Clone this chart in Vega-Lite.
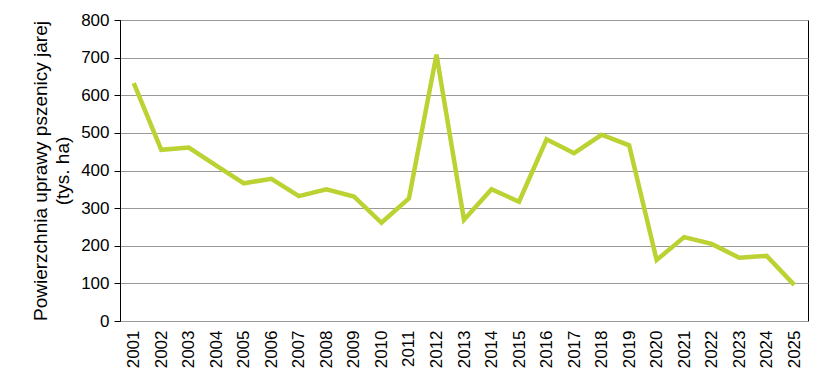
{
  "$schema": "https://vega.github.io/schema/vega-lite/v6.json",
  "width": 688,
  "height": 301,
  "autosize": "none",
  "padding": {"left": 120, "top": 20, "right": 18, "bottom": 62},
  "background": "white",
  "config": {
    "font": "Liberation Sans",
    "view": {"stroke": "black", "strokeWidth": 1}
  },
  "data": {
    "values": [
      {"rok": "2001", "v": 632},
      {"rok": "2002", "v": 455},
      {"rok": "2003", "v": 461},
      {"rok": "2004", "v": 413},
      {"rok": "2005", "v": 366},
      {"rok": "2006", "v": 378},
      {"rok": "2007", "v": 332},
      {"rok": "2008", "v": 350},
      {"rok": "2009", "v": 331},
      {"rok": "2010", "v": 261},
      {"rok": "2011", "v": 326},
      {"rok": "2012", "v": 708},
      {"rok": "2013", "v": 269},
      {"rok": "2014", "v": 350},
      {"rok": "2015", "v": 317},
      {"rok": "2016", "v": 483},
      {"rok": "2017", "v": 446},
      {"rok": "2018", "v": 495},
      {"rok": "2019", "v": 467},
      {"rok": "2020", "v": 162},
      {"rok": "2021", "v": 223},
      {"rok": "2022", "v": 205},
      {"rok": "2023", "v": 168},
      {"rok": "2024", "v": 173},
      {"rok": "2025", "v": 96}
    ]
  },
  "mark": {"type": "line", "color": "#bbd232", "strokeWidth": 4.5, "strokeJoin": "miter"},
  "encoding": {
    "x": {
      "field": "rok",
      "type": "ordinal",
      "scale": {"type": "point", "padding": 0.5},
      "axis": {
        "title": null,
        "labelAngle": -90,
        "labelFontSize": 17,
        "labelColor": "black",
        "labelPadding": 9,
        "ticks": false,
        "domainColor": "#999999",
        "grid": false
      }
    },
    "y": {
      "field": "v",
      "type": "quantitative",
      "scale": {"domain": [0, 800], "nice": false},
      "axis": {
        "values": [0, 100, 200, 300, 400, 500, 600, 700, 800],
        "title": ["Powierzchnia uprawy pszenicy jarej", "(tys. ha)"],
        "titleFontSize": 19,
        "titleFontWeight": "normal",
        "titleColor": "black",
        "titleAngle": -90,
        "titleAlign": "center",
        "titleBaseline": "alphabetic",
        "titleX": -74,
        "titleY": 150.5,
        "titleLineHeight": 22,
        "labelFontSize": 17,
        "labelColor": "black",
        "labelPadding": 5,
        "tickSize": 6,
        "tickColor": "black",
        "domainColor": "black",
        "gridColor": "#999999",
        "gridWidth": 1
      }
    }
  }
}
